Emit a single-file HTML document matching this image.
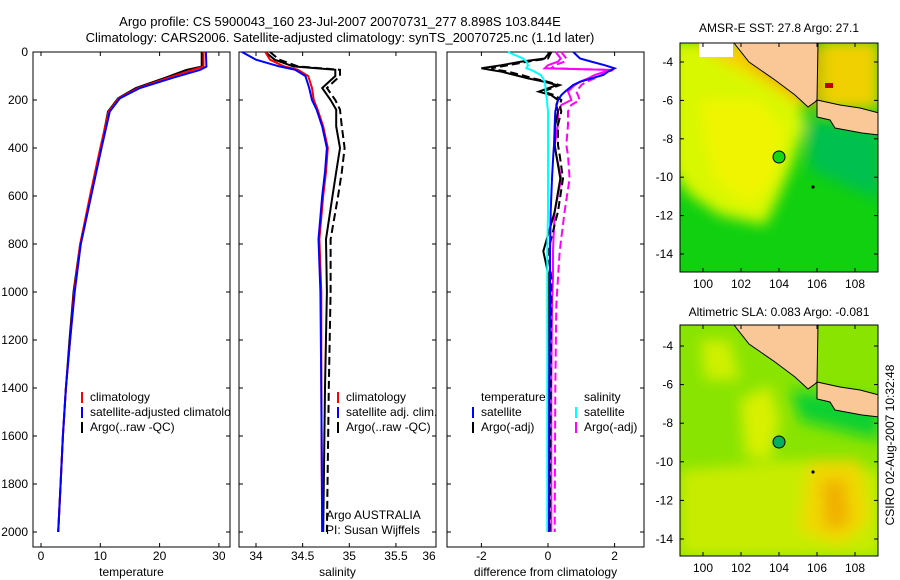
<!DOCTYPE html>
<html><head><meta charset="utf-8"><style>
body{margin:0;background:#fff}
svg{display:block;font-family:"Liberation Sans",sans-serif;font-size:12px}
</style></head><body>
<svg id="s" width="900" height="580" viewBox="0 0 900 580">
<defs>
<filter id="bl" x="-20%" y="-20%" width="140%" height="140%"><feGaussianBlur stdDeviation="7"/></filter>
<clipPath id="c1"><rect x="680" y="43" width="198" height="229"/></clipPath>
<clipPath id="c2"><rect x="680" y="325" width="198" height="231"/></clipPath>
<clipPath id="cp1"><rect x="33" y="52" width="197" height="495"/></clipPath>
</defs>
<text x="340" y="26" text-anchor="middle" font-size="13">Argo profile: CS 5900043_160 23-Jul-2007 20070731_277 8.898S 103.844E</text>
<text x="340" y="42" text-anchor="middle" font-size="13">Climatology: CARS2006. Satellite-adjusted climatology: synTS_20070725.nc (1.1d later)</text>
<g id="plots"></g>

<!-- Map 1 -->
<g clip-path="url(#c1)">
<rect x="680" y="43" width="198" height="229" fill="#10d010"/>
<g filter="url(#bl)">
<polygon points="670,40 740,40 800,100 805,125 790,170 775,205 765,225 720,215 690,195 670,170" fill="#d8f800"/>
<polygon points="700,100 760,100 785,130 775,180 750,205 715,180 705,140" fill="#f0f400"/>
<polygon points="690,40 780,40 815,100 800,105 760,80 720,60" fill="#f8d000"/>
<polygon points="740,45 818,45 818,110 790,90 760,70" fill="#e8a000"/>
<polygon points="820,40 880,40 880,110 820,110" fill="#f0d000"/>
<polygon points="850,140 880,135 880,175 860,170" fill="#00c878"/>
<polygon points="805,120 880,130 880,200 810,170" fill="#00c050"/>
</g>
<rect x="825" y="83" width="8" height="5" fill="#c00000"/>
<rect x="699" y="43" width="34" height="14" fill="#fff"/>
<polygon points="734,43 749,62 775,80 795,95 808,107 815,102 817,100 818,43" fill="#f9c896" stroke="#000" stroke-width="1"/>
<polygon points="817,100 840,105 860,108 879,113 879,135 862,133 835,128 830,120 817,117" fill="#f9c896" stroke="#000" stroke-width="1"/>
<circle cx="779" cy="157" r="6" fill="#14d814" stroke="#000"/>
<circle cx="813" cy="187" r="1.6" fill="#000"/>
</g>
<rect x="680" y="43" width="198" height="229" fill="none" stroke="#000"/>
<text x="779" y="32" text-anchor="middle">AMSR-E SST: 27.8 Argo: 27.1</text>

<!-- Map 2 -->
<g clip-path="url(#c2)">
<rect x="680" y="325" width="198" height="231" fill="#88e400"/>
<g filter="url(#bl)">
<polygon points="740,400 770,385 780,420 770,460 745,455" fill="#d8f000"/>
<polygon points="680,470 800,460 880,470 880,556 680,556" fill="#c8ec00"/>
<polygon points="810,460 860,460 870,520 840,545 800,530" fill="#f0d800"/>
<polygon points="822,480 845,480 850,525 825,530" fill="#f0b000"/>
<polygon points="790,390 880,400 880,440 800,420" fill="#10d030"/>
<polygon points="700,340 730,340 740,380 705,380" fill="#d0f000"/>
</g>
<polygon points="734,325 749,344 775,362 795,377 808,389 815,384 817,382 818,325" fill="#f9c896" stroke="#000" stroke-width="1"/>
<polygon points="817,382 840,387 860,390 879,395 879,417 862,415 835,410 830,402 817,399" fill="#f9c896" stroke="#000" stroke-width="1"/>
<circle cx="779" cy="442" r="6" fill="#00b060" stroke="#000"/>
<circle cx="813" cy="472" r="1.6" fill="#000"/>
</g>
<rect x="680" y="325" width="198" height="231" fill="none" stroke="#000"/>
<text x="779" y="316" text-anchor="middle">Altimetric SLA: 0.083 Argo: -0.081</text>
<text transform="translate(894,445) rotate(-90)" text-anchor="middle">CSIRO 02-Aug-2007 10:32:48</text>
<g id="maps"></g>
</svg>
<script>
// ---- data ----
const depthTicks=[0,200,400,600,800,1000,1200,1400,1600,1800,2000];
const tempTicks=[0,10,20,30];
const salTicks=[34,34.5,35,35.5,36];
const diffTicks=[-2,0,2];
const lonTicks=[100,102,104,106,108];
const latTicks=[-4,-6,-8,-10,-12,-14];
const tDepth=[0,61,75,107,150,193,248,400,595,803,997,1200,1400,1600,1800,2000];
const tSat=[27.8,27.9,26.8,22.3,16.7,13.3,11.6,10.2,8.5,6.7,5.7,4.9,4.2,3.7,3.3,2.9];
const tClim=[27.4,27.4,25.5,21.5,16.4,13.1,11.4,10.0,8.3,6.6,5.6,4.9,4.2,3.7,3.3,2.9];
const tArgo=[27.1,27.1,24.5,21.0,16.0,13.0,11.3,10.1,8.4,6.6,5.5,4.8,4.2,3.7,3.3,2.9];
const sDepth=[0,32,60,74,100,150,200,240,310,400,500,600,780,1000,1400,2000];
const sClim=[34.1,34.15,34.3,34.45,34.56,34.6,34.62,34.66,34.72,34.77,34.75,34.72,34.68,34.7,34.7,34.71];
const sSat=[33.85,34.0,34.25,34.42,34.53,34.57,34.6,34.65,34.71,34.76,34.74,34.71,34.67,34.69,34.7,34.71];
const sArgo=[34.1,34.2,34.4,34.85,34.85,34.71,34.8,34.86,34.86,34.9,34.86,34.82,34.75,34.76,34.74,34.72];
const sArgoAdj=[34.15,34.25,34.45,34.9,34.9,34.76,34.85,34.9,34.92,34.95,34.92,34.88,34.8,34.8,34.78,34.76];
const dDepth=[0,27,40,55,68,75,82,96,110,124,138,165,180,200,221,248,304,388,430,527,665,830,940,1054,1400,2000];
const dTempSat=[0.76,0.96,1.3,1.7,2.0,1.9,1.8,1.66,1.3,0.96,0.75,0.51,0.4,0.3,0.26,0.22,0.2,0.18,0.16,0.12,0.08,0.06,0.06,0.06,0.04,0.03];
const dSalSat=[-1.2,-0.75,-0.65,-0.6,-0.65,-0.5,-0.4,-0.22,-0.15,-0.1,-0.08,-0.07,-0.05,-0.03,-0.02,0,0,0,0,0,0,-0.02,-0.02,-0.02,-0.02,-0.02];
const dTempArgo=[0.06,-0.1,-0.8,-1.4,-2.0,-1.7,-1.4,-1.0,-0.6,-0.1,0.27,-0.28,0.1,0.3,0.25,0.3,0.22,0.2,0.25,0.37,0.2,-0.14,0.03,0.03,0.02,0.0];
const dTempArgoAdj=[0.1,0.0,-0.6,-1.2,-1.7,-1.5,-1.2,-0.8,-0.45,0.0,0.35,-0.15,0.2,0.4,0.35,0.4,0.3,0.3,0.35,0.45,0.3,0.0,0.1,0.1,0.08,0.05];
const dSalArgo=[0.23,0.38,0.3,0.0,-0.1,1.95,1.7,1.4,1.2,0.96,0.8,0.6,0.65,0.7,0.4,0.3,0.3,0.2,0.25,0.4,0.2,0.15,0.15,0.12,0.1,0.1];
const dSalArgoAdj=[0.4,0.55,0.5,0.2,0.1,1.95,1.8,1.6,1.4,1.15,1.0,0.85,0.9,0.95,0.7,0.6,0.6,0.55,0.6,0.65,0.5,0.35,0.3,0.25,0.22,0.2];
// ---- scales ----
const top0=52, bot=547;
const yD=d=>top0+d*0.24;
const xT=t=>41+t*5.93;
const xS=s=>256+(s-34)*93.3;
const xDf=v=>548+v*33.3;
const lonX=l=>703+(l-100)*19;
const latY1=l=>62+(-4-l)*19.2;
const latY2=l=>346+(-4-l)*19.3;
const NS='http://www.w3.org/2000/svg';
const P=document.getElementById('plots');
function mk(tag,at,parent){const e=document.createElementNS(NS,tag);for(const k in at)e.setAttribute(k,at[k]);(parent||P).appendChild(e);return e;}
function line(xs,ds,xf,color,dash,name){
  const pts=xs.map((v,i)=>xf(v).toFixed(1)+','+yD(ds[i]).toFixed(1)).join(' ');
  const e=mk('polyline',{points:pts,fill:'none',stroke:color,'stroke-width':2,'stroke-dasharray':dash||'none'});
  
  
}
function panel(x0,x1,ticks,xf,label,name,yLabels){
  const f=mk('rect',{x:x0,y:top0,width:x1-x0,height:bot-top0,fill:'none',stroke:'#000'});
  
  
  depthTicks.forEach(d=>{const y=yD(d);mk('line',{x1:x0,x2:x0+4,y1:y,y2:y,stroke:'#000'});mk('line',{x1:x1-4,x2:x1,y1:y,y2:y,stroke:'#000'});
    if(yLabels){const t=mk('text',{x:28,y:y+4,'text-anchor':'end'});t.textContent=d;
      
      }});
  ticks.forEach(v=>{const x=xf(v);if(x>x1+12)return;if(x<=x1){mk('line',{x1:x,x2:x,y1:bot,y2:bot-4,stroke:'#000'});mk('line',{x1:x,x2:x,y1:top0,y2:top0+4,stroke:'#000'});}
    const t=mk('text',{x:Math.min(x,x1-7),y:560,'text-anchor':'middle'});t.textContent=v;
    
    });
  const t=mk('text',{x:(x0+x1)/2,y:576,'text-anchor':'middle'});t.textContent=label;
  
  
}
panel(33,230,tempTicks,xT,'temperature','temperature',true);
panel(239,436,salTicks,xS,'salinity','salinity',false);
panel(447,644,diffTicks,xDf,'difference from climatology','difference',false);
line(tArgo,tDepth,xT,'#000','','temp-argo-line');
line(tClim,tDepth,xT,'#f00','','temp-climatology-line');
line(tSat,tDepth,xT,'#00f','','temp-satellite-line');
line(sArgoAdj,sDepth,xS,'#000','8,4','sal-argo-adj-line');
line(sArgo,sDepth,xS,'#000','','sal-argo-line');
line(sClim,sDepth,xS,'#f00','','sal-climatology-line');
line(sSat,sDepth,xS,'#00f','','sal-satellite-line');
line(dSalArgoAdj,dDepth,xDf,'#f0f','8,4','diff-sal-argo-adj-line');
line(dSalArgo,dDepth,xDf,'#f0f','','diff-sal-argo-line');
line(dTempArgoAdj,dDepth,xDf,'#000','8,4','diff-temp-argo-adj-line');
line(dTempArgo,dDepth,xDf,'#000','','diff-temp-argo-line');
line(dSalSat,dDepth,xDf,'#0ff','','diff-sal-satellite-line');
line(dTempSat,dDepth,xDf,'#00f','','diff-temp-satellite-line');
const L1=mk('g',{'clip-path':'url(#cp1)'});
function leg(x,y,color,text,name,par){
  if(color){mk('line',{x1:x,x2:x,y1:y-9,y2:y+2,stroke:color,'stroke-width':2},par);}
  const t=mk('text',{x:x+8,y:y},par);t.textContent=text;
  
  
}
leg(82,401,'#f00','climatology','legend-climatology',L1);
leg(82,416,'#00f','satellite-adjusted climatology','legend-satellite-adjusted',L1);
leg(82,431,'#000','Argo(..raw -QC)','legend-argo',L1);
leg(338,401,'#f00','climatology','sal-legend-climatology');
leg(338,416,'#00f','satellite adj. clim.','sal-legend-satellite');
leg(338,431,'#000','Argo(..raw -QC)','sal-legend-argo');
leg(473,401,null,'temperature','diff-legend-temperature-head');
leg(473,416,'#00f','satellite','diff-legend-temp-satellite');
leg(473,431,'#000','Argo(-adj)','diff-legend-temp-argo');
leg(576,401,null,'salinity','diff-legend-salinity-head');
leg(576,416,'#0ff','satellite','diff-legend-sal-satellite');
leg(576,431,'#f0f','Argo(-adj)','diff-legend-sal-argo');
leg(318,519,null,'Argo AUSTRALIA','argo-australia-label');
leg(318,534,null,'PI: Susan Wijffels','pi-label');
const M=document.getElementById('maps');
[[43,272,latY1],[325,556,latY2]].forEach(([t0,b0,yf])=>{
  lonTicks.forEach(l=>{const x=lonX(l);mk('line',{x1:x,x2:x,y1:b0,y2:b0-4,stroke:'#000'},M);mk('line',{x1:x,x2:x,y1:t0,y2:t0+4,stroke:'#000'},M);
    const t=mk('text',{x:x,y:b0+16,'text-anchor':'middle'},M);t.textContent=l;
    
    });
  latTicks.forEach(l=>{const y=yf(l);mk('line',{x1:680,x2:684,y1:y,y2:y,stroke:'#000'},M);mk('line',{x1:874,x2:878,y1:y,y2:y,stroke:'#000'},M);
    const t=mk('text',{x:673,y:y+4,'text-anchor':'end'},M);t.textContent=l;
    
    });
});
</script>
</body></html>
